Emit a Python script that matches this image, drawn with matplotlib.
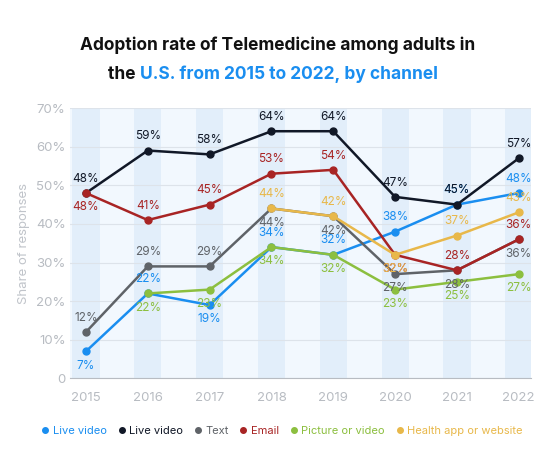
import matplotlib
matplotlib.use("Agg")
import matplotlib.pyplot as plt

plt.rcParams['font.family'] = ['Inter', 'DejaVu Sans']

years = [2015, 2016, 2017, 2018, 2019, 2020, 2021, 2022]
live_blue = [7, 22, 19, 34, 32, 38, 45, 48]
live_black = [48, 59, 58, 64, 64, 47, 45, 57]
text_vals = [12, 29, 29, 44, 42, 27, 28, 36]
email = [48, 41, 45, 53, 54, 32, 28, 36]
picture_years = [2016, 2017, 2018, 2019, 2020, 2021, 2022]
picture = [22, 23, 34, 32, 23, 25, 27]
health_years = [2018, 2019, 2020, 2021, 2022]
health = [44, 42, 32, 37, 43]

# label placement: 'a' above, 'b' below
series = [
    ("Live video", years, live_blue, "#1a8ef0", "babaaaaa"),
    ("Live video", years, live_black, "#111827", "aaaaaaaa"),
    ("Text", years, text_vals, "#5f6368", "aaabbbbb"),
    ("Email", years, email, "#a82424", "baaaabaa"),
    ("Picture or video", picture_years, picture, "#8cbf3f", "bbbbbbb"),
    ("Health app or website", health_years, health, "#e8b84a", "aabaa"),
]

fig = plt.figure(figsize=(5.55, 4.76), dpi=100)
ax = fig.add_axes([0.127, 0.205, 0.83, 0.568])
ax.set_facecolor("#f2f8fe")
for y in years:
    ax.axvspan(y - 0.22, y + 0.22, color="#e2eefa", zorder=0, lw=0)

for name, xs, ys, c, pos in series:
    ax.plot(xs, ys, color=c, lw=1.8, marker="o", ms=5, label=name, zorder=3)
    for x, y, p in zip(xs, ys, pos):
        dy = 6 if p == "a" else -6
        ax.annotate(f"{y}%", (x, y), xytext=(0, dy), textcoords="offset points",
                    ha="center", va="bottom" if p == "a" else "top",
                    color=c, fontsize=8.5, zorder=4)

ax.set_xlim(2014.75, 2022.2)
ax.set_ylim(0, 70)
ax.set_yticks(range(0, 71, 10))
ax.set_yticklabels(["0"] + [f"{v}%" for v in range(10, 71, 10)])
ax.set_xticks(years)
ax.tick_params(colors="#b8bcc2", labelsize=9.5, length=0)
ax.tick_params(axis="x", pad=10)
ax.grid(axis="y", color="#dde3ea", lw=0.8, zorder=1)
ax.set_axisbelow(True)
for s in ["top", "right", "left"]:
    ax.spines[s].set_visible(False)
ax.spines["bottom"].set_color("#b8bcc2")
ax.set_ylabel("Share of responses", color="#c0c4ca", fontsize=9.5)

fig.text(0.5, 0.895, "Adoption rate of Telemedicine among adults in", ha="center",
         fontsize=12.5, fontweight="bold", color="#111111")
t1 = fig.text(0.195, 0.835, "the ", ha="left", fontsize=12.5, fontweight="bold", color="#111111")
fig.canvas.draw()
bb = t1.get_window_extent()
x2 = bb.x1 / fig.bbox.width
fig.text(x2, 0.835, "U.S. from 2015 to 2022, by channel", ha="left",
         fontsize=12.5, fontweight="bold", color="#1a8ef0")

leg = ax.legend(loc="upper center", bbox_to_anchor=(0.46, -0.14), ncol=6, frameon=False,
                fontsize=8, handlelength=0.5, handletextpad=0.4, columnspacing=1.1,
                markerscale=0.8)
for h in leg.legend_handles:
    h.set_linestyle("none")
for txt, s in zip(leg.get_texts(), series):
    txt.set_color(s[3])

fig.savefig("out.png", dpi=100)
